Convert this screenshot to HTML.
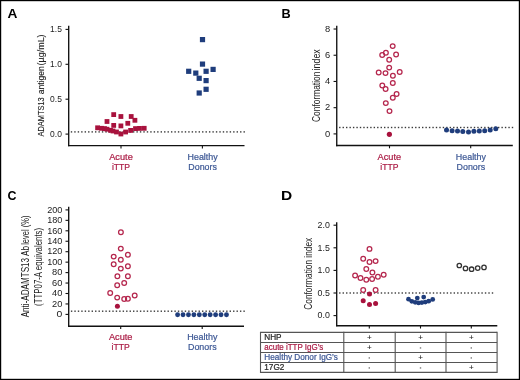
<!DOCTYPE html><html><head><meta charset="utf-8"><style>html,body{margin:0;padding:0;background:#fff;}body{width:520px;height:380px;overflow:hidden;}svg{display:block;font-family:"Liberation Sans",sans-serif;will-change:transform;}</style></head><body>
<svg width="520" height="380" viewBox="0 0 520 380">
<rect x="0" y="0" width="520" height="380" fill="#fff"/>
<text x="7.4" y="17.9" font-size="13.2" text-anchor="start" fill="#000" font-weight="bold" textLength="9.9" lengthAdjust="spacingAndGlyphs">A</text>
<line x1="68.7" y1="25.8" x2="68.7" y2="146.25" stroke="#111" stroke-width="1.35"/>
<line x1="68.05" y1="145.6" x2="244.5" y2="145.6" stroke="#111" stroke-width="1.35"/>
<line x1="65.5" y1="29.4" x2="68.7" y2="29.4" stroke="#111" stroke-width="1.1"/>
<text x="61.9" y="32.15" font-size="9.4" text-anchor="end" fill="#222" font-weight="normal" textLength="11.8" lengthAdjust="spacingAndGlyphs">1.5</text>
<line x1="65.5" y1="64.3" x2="68.7" y2="64.3" stroke="#111" stroke-width="1.1"/>
<text x="61.9" y="67.05" font-size="9.4" text-anchor="end" fill="#222" font-weight="normal" textLength="11.8" lengthAdjust="spacingAndGlyphs">1.0</text>
<line x1="65.5" y1="99.2" x2="68.7" y2="99.2" stroke="#111" stroke-width="1.1"/>
<text x="61.9" y="101.95" font-size="9.4" text-anchor="end" fill="#222" font-weight="normal" textLength="11.8" lengthAdjust="spacingAndGlyphs">0.5</text>
<line x1="65.5" y1="134.1" x2="68.7" y2="134.1" stroke="#111" stroke-width="1.1"/>
<text x="61.9" y="136.85" font-size="9.4" text-anchor="end" fill="#222" font-weight="normal" textLength="11.8" lengthAdjust="spacingAndGlyphs">0.0</text>
<line x1="121" y1="145.6" x2="121" y2="148.4" stroke="#111" stroke-width="1.1"/>
<line x1="202.4" y1="145.6" x2="202.4" y2="148.4" stroke="#111" stroke-width="1.1"/>
<text transform="translate(44.0,136.5) rotate(-90)" x="0" y="0" font-size="9.6" fill="#222" textLength="39.2" lengthAdjust="spacingAndGlyphs" stroke="#222" stroke-width="0.12">ADAMTS13</text>
<text transform="translate(44.0,94.3) rotate(-90)" x="0" y="0" font-size="9.6" fill="#222" textLength="28.0" lengthAdjust="spacingAndGlyphs" stroke="#222" stroke-width="0.12">antigen</text>
<text transform="translate(44.0,65.4) rotate(-90)" x="0" y="0" font-size="9.6" fill="#222" textLength="31.0" lengthAdjust="spacingAndGlyphs" stroke="#222" stroke-width="0.12">(µg/mL)</text>
<rect x="70.80" y="131.20" width="1.4" height="1.4" fill="#3a3a3a"/>
<rect x="74.25" y="131.20" width="1.4" height="1.4" fill="#3a3a3a"/>
<rect x="77.71" y="131.20" width="1.4" height="1.4" fill="#3a3a3a"/>
<rect x="81.16" y="131.20" width="1.4" height="1.4" fill="#3a3a3a"/>
<rect x="84.62" y="131.20" width="1.4" height="1.4" fill="#3a3a3a"/>
<rect x="88.07" y="131.20" width="1.4" height="1.4" fill="#3a3a3a"/>
<rect x="91.52" y="131.20" width="1.4" height="1.4" fill="#3a3a3a"/>
<rect x="94.98" y="131.20" width="1.4" height="1.4" fill="#3a3a3a"/>
<rect x="98.43" y="131.20" width="1.4" height="1.4" fill="#3a3a3a"/>
<rect x="101.89" y="131.20" width="1.4" height="1.4" fill="#3a3a3a"/>
<rect x="105.34" y="131.20" width="1.4" height="1.4" fill="#3a3a3a"/>
<rect x="108.79" y="131.20" width="1.4" height="1.4" fill="#3a3a3a"/>
<rect x="112.25" y="131.20" width="1.4" height="1.4" fill="#3a3a3a"/>
<rect x="115.70" y="131.20" width="1.4" height="1.4" fill="#3a3a3a"/>
<rect x="119.16" y="131.20" width="1.4" height="1.4" fill="#3a3a3a"/>
<rect x="122.61" y="131.20" width="1.4" height="1.4" fill="#3a3a3a"/>
<rect x="126.06" y="131.20" width="1.4" height="1.4" fill="#3a3a3a"/>
<rect x="129.52" y="131.20" width="1.4" height="1.4" fill="#3a3a3a"/>
<rect x="132.97" y="131.20" width="1.4" height="1.4" fill="#3a3a3a"/>
<rect x="136.43" y="131.20" width="1.4" height="1.4" fill="#3a3a3a"/>
<rect x="139.88" y="131.20" width="1.4" height="1.4" fill="#3a3a3a"/>
<rect x="143.33" y="131.20" width="1.4" height="1.4" fill="#3a3a3a"/>
<rect x="146.79" y="131.20" width="1.4" height="1.4" fill="#3a3a3a"/>
<rect x="150.24" y="131.20" width="1.4" height="1.4" fill="#3a3a3a"/>
<rect x="153.70" y="131.20" width="1.4" height="1.4" fill="#3a3a3a"/>
<rect x="157.15" y="131.20" width="1.4" height="1.4" fill="#3a3a3a"/>
<rect x="160.60" y="131.20" width="1.4" height="1.4" fill="#3a3a3a"/>
<rect x="164.06" y="131.20" width="1.4" height="1.4" fill="#3a3a3a"/>
<rect x="167.51" y="131.20" width="1.4" height="1.4" fill="#3a3a3a"/>
<rect x="170.97" y="131.20" width="1.4" height="1.4" fill="#3a3a3a"/>
<rect x="174.42" y="131.20" width="1.4" height="1.4" fill="#3a3a3a"/>
<rect x="177.87" y="131.20" width="1.4" height="1.4" fill="#3a3a3a"/>
<rect x="181.33" y="131.20" width="1.4" height="1.4" fill="#3a3a3a"/>
<rect x="184.78" y="131.20" width="1.4" height="1.4" fill="#3a3a3a"/>
<rect x="188.24" y="131.20" width="1.4" height="1.4" fill="#3a3a3a"/>
<rect x="191.69" y="131.20" width="1.4" height="1.4" fill="#3a3a3a"/>
<rect x="195.14" y="131.20" width="1.4" height="1.4" fill="#3a3a3a"/>
<rect x="198.60" y="131.20" width="1.4" height="1.4" fill="#3a3a3a"/>
<rect x="202.05" y="131.20" width="1.4" height="1.4" fill="#3a3a3a"/>
<rect x="205.51" y="131.20" width="1.4" height="1.4" fill="#3a3a3a"/>
<rect x="208.96" y="131.20" width="1.4" height="1.4" fill="#3a3a3a"/>
<rect x="212.41" y="131.20" width="1.4" height="1.4" fill="#3a3a3a"/>
<rect x="215.87" y="131.20" width="1.4" height="1.4" fill="#3a3a3a"/>
<rect x="219.32" y="131.20" width="1.4" height="1.4" fill="#3a3a3a"/>
<rect x="222.78" y="131.20" width="1.4" height="1.4" fill="#3a3a3a"/>
<rect x="226.23" y="131.20" width="1.4" height="1.4" fill="#3a3a3a"/>
<rect x="229.68" y="131.20" width="1.4" height="1.4" fill="#3a3a3a"/>
<rect x="233.14" y="131.20" width="1.4" height="1.4" fill="#3a3a3a"/>
<rect x="236.59" y="131.20" width="1.4" height="1.4" fill="#3a3a3a"/>
<rect x="240.05" y="131.20" width="1.4" height="1.4" fill="#3a3a3a"/>
<rect x="243.50" y="131.20" width="1.4" height="1.4" fill="#3a3a3a"/>
<rect x="199.90" y="37.00" width="5.2" height="5.2" fill="#1f3d7c"/>
<rect x="199.90" y="61.50" width="5.2" height="5.2" fill="#1f3d7c"/>
<rect x="186.10" y="68.70" width="5.2" height="5.2" fill="#1f3d7c"/>
<rect x="193.20" y="70.50" width="5.2" height="5.2" fill="#1f3d7c"/>
<rect x="203.50" y="68.70" width="5.2" height="5.2" fill="#1f3d7c"/>
<rect x="210.50" y="66.80" width="5.2" height="5.2" fill="#1f3d7c"/>
<rect x="196.60" y="75.70" width="5.2" height="5.2" fill="#1f3d7c"/>
<rect x="203.50" y="78.00" width="5.2" height="5.2" fill="#1f3d7c"/>
<rect x="203.50" y="86.70" width="5.2" height="5.2" fill="#1f3d7c"/>
<rect x="196.60" y="90.40" width="5.2" height="5.2" fill="#1f3d7c"/>
<rect x="111.30" y="112.20" width="4.8" height="4.8" fill="#a8123d"/>
<rect x="118.50" y="114.10" width="4.8" height="4.8" fill="#a8123d"/>
<rect x="128.80" y="114.10" width="4.8" height="4.8" fill="#a8123d"/>
<rect x="132.50" y="117.90" width="4.8" height="4.8" fill="#a8123d"/>
<rect x="104.60" y="119.10" width="4.8" height="4.8" fill="#a8123d"/>
<rect x="111.30" y="123.00" width="4.8" height="4.8" fill="#a8123d"/>
<rect x="118.50" y="123.50" width="4.8" height="4.8" fill="#a8123d"/>
<rect x="125.40" y="120.90" width="4.8" height="4.8" fill="#a8123d"/>
<rect x="95.20" y="125.40" width="4.8" height="4.8" fill="#a8123d"/>
<rect x="99.10" y="125.90" width="4.8" height="4.8" fill="#a8123d"/>
<rect x="102.10" y="126.20" width="4.8" height="4.8" fill="#a8123d"/>
<rect x="104.60" y="126.80" width="4.8" height="4.8" fill="#a8123d"/>
<rect x="108.10" y="127.90" width="4.8" height="4.8" fill="#a8123d"/>
<rect x="110.60" y="128.60" width="4.8" height="4.8" fill="#a8123d"/>
<rect x="114.10" y="129.60" width="4.8" height="4.8" fill="#a8123d"/>
<rect x="118.50" y="131.60" width="4.8" height="4.8" fill="#a8123d"/>
<rect x="123.20" y="129.60" width="4.8" height="4.8" fill="#a8123d"/>
<rect x="128.20" y="128.00" width="4.8" height="4.8" fill="#a8123d"/>
<rect x="133.10" y="126.20" width="4.8" height="4.8" fill="#a8123d"/>
<rect x="137.10" y="126.00" width="4.8" height="4.8" fill="#a8123d"/>
<rect x="141.80" y="125.90" width="4.8" height="4.8" fill="#a8123d"/>
<text x="121" y="159.8" font-size="9.4" text-anchor="middle" fill="#ab1c45" font-weight="normal" textLength="23.6" lengthAdjust="spacingAndGlyphs" stroke="#ab1c45" stroke-width="0.22">Acute</text>
<text x="121" y="169.8" font-size="9.4" text-anchor="middle" fill="#ab1c45" font-weight="normal" textLength="18.2" lengthAdjust="spacingAndGlyphs" stroke="#ab1c45" stroke-width="0.22">iTTP</text>
<text x="202.6" y="159.8" font-size="9.4" text-anchor="middle" fill="#3d5895" font-weight="normal" textLength="30.2" lengthAdjust="spacingAndGlyphs" stroke="#3d5895" stroke-width="0.22">Healthy</text>
<text x="202.6" y="169.8" font-size="9.4" text-anchor="middle" fill="#3d5895" font-weight="normal" textLength="28.6" lengthAdjust="spacingAndGlyphs" stroke="#3d5895" stroke-width="0.22">Donors</text>
<text x="281.4" y="18.1" font-size="13.2" text-anchor="start" fill="#000" font-weight="bold" textLength="9.2" lengthAdjust="spacingAndGlyphs">B</text>
<line x1="336.75" y1="25.8" x2="336.75" y2="146.15" stroke="#111" stroke-width="1.35"/>
<line x1="336.1" y1="145.5" x2="512.8" y2="145.5" stroke="#111" stroke-width="1.35"/>
<line x1="333.55" y1="29.02" x2="336.75" y2="29.02" stroke="#111" stroke-width="1.1"/>
<text x="330.3" y="31.77" font-size="9.4" text-anchor="end" fill="#222" font-weight="normal" textLength="5.2" lengthAdjust="spacingAndGlyphs">8</text>
<line x1="333.55" y1="55.24" x2="336.75" y2="55.24" stroke="#111" stroke-width="1.1"/>
<text x="330.3" y="57.99" font-size="9.4" text-anchor="end" fill="#222" font-weight="normal" textLength="5.2" lengthAdjust="spacingAndGlyphs">6</text>
<line x1="333.55" y1="81.46" x2="336.75" y2="81.46" stroke="#111" stroke-width="1.1"/>
<text x="330.3" y="84.21" font-size="9.4" text-anchor="end" fill="#222" font-weight="normal" textLength="5.2" lengthAdjust="spacingAndGlyphs">4</text>
<line x1="333.55" y1="107.68" x2="336.75" y2="107.68" stroke="#111" stroke-width="1.1"/>
<text x="330.3" y="110.43" font-size="9.4" text-anchor="end" fill="#222" font-weight="normal" textLength="5.2" lengthAdjust="spacingAndGlyphs">2</text>
<line x1="333.55" y1="133.9" x2="336.75" y2="133.9" stroke="#111" stroke-width="1.1"/>
<text x="330.3" y="136.65" font-size="9.4" text-anchor="end" fill="#222" font-weight="normal" textLength="5.2" lengthAdjust="spacingAndGlyphs">0</text>
<line x1="389.5" y1="145.5" x2="389.5" y2="148.3" stroke="#111" stroke-width="1.1"/>
<line x1="470.7" y1="145.5" x2="470.7" y2="148.3" stroke="#111" stroke-width="1.1"/>
<text transform="translate(319.7,122.0) rotate(-90)" x="0" y="0" font-size="10.6" fill="#222" textLength="50.4" lengthAdjust="spacingAndGlyphs">Conformation</text>
<text transform="translate(319.7,70.4) rotate(-90)" x="0" y="0" font-size="10.6" fill="#222" textLength="21.2" lengthAdjust="spacingAndGlyphs">index</text>
<rect x="339.10" y="126.80" width="1.4" height="1.4" fill="#3a3a3a"/>
<rect x="342.55" y="126.80" width="1.4" height="1.4" fill="#3a3a3a"/>
<rect x="346.01" y="126.80" width="1.4" height="1.4" fill="#3a3a3a"/>
<rect x="349.46" y="126.80" width="1.4" height="1.4" fill="#3a3a3a"/>
<rect x="352.92" y="126.80" width="1.4" height="1.4" fill="#3a3a3a"/>
<rect x="356.37" y="126.80" width="1.4" height="1.4" fill="#3a3a3a"/>
<rect x="359.82" y="126.80" width="1.4" height="1.4" fill="#3a3a3a"/>
<rect x="363.28" y="126.80" width="1.4" height="1.4" fill="#3a3a3a"/>
<rect x="366.73" y="126.80" width="1.4" height="1.4" fill="#3a3a3a"/>
<rect x="370.19" y="126.80" width="1.4" height="1.4" fill="#3a3a3a"/>
<rect x="373.64" y="126.80" width="1.4" height="1.4" fill="#3a3a3a"/>
<rect x="377.09" y="126.80" width="1.4" height="1.4" fill="#3a3a3a"/>
<rect x="380.55" y="126.80" width="1.4" height="1.4" fill="#3a3a3a"/>
<rect x="384.00" y="126.80" width="1.4" height="1.4" fill="#3a3a3a"/>
<rect x="387.46" y="126.80" width="1.4" height="1.4" fill="#3a3a3a"/>
<rect x="390.91" y="126.80" width="1.4" height="1.4" fill="#3a3a3a"/>
<rect x="394.36" y="126.80" width="1.4" height="1.4" fill="#3a3a3a"/>
<rect x="397.82" y="126.80" width="1.4" height="1.4" fill="#3a3a3a"/>
<rect x="401.27" y="126.80" width="1.4" height="1.4" fill="#3a3a3a"/>
<rect x="404.73" y="126.80" width="1.4" height="1.4" fill="#3a3a3a"/>
<rect x="408.18" y="126.80" width="1.4" height="1.4" fill="#3a3a3a"/>
<rect x="411.63" y="126.80" width="1.4" height="1.4" fill="#3a3a3a"/>
<rect x="415.09" y="126.80" width="1.4" height="1.4" fill="#3a3a3a"/>
<rect x="418.54" y="126.80" width="1.4" height="1.4" fill="#3a3a3a"/>
<rect x="422.00" y="126.80" width="1.4" height="1.4" fill="#3a3a3a"/>
<rect x="425.45" y="126.80" width="1.4" height="1.4" fill="#3a3a3a"/>
<rect x="428.90" y="126.80" width="1.4" height="1.4" fill="#3a3a3a"/>
<rect x="432.36" y="126.80" width="1.4" height="1.4" fill="#3a3a3a"/>
<rect x="435.81" y="126.80" width="1.4" height="1.4" fill="#3a3a3a"/>
<rect x="439.27" y="126.80" width="1.4" height="1.4" fill="#3a3a3a"/>
<rect x="442.72" y="126.80" width="1.4" height="1.4" fill="#3a3a3a"/>
<rect x="446.17" y="126.80" width="1.4" height="1.4" fill="#3a3a3a"/>
<rect x="449.63" y="126.80" width="1.4" height="1.4" fill="#3a3a3a"/>
<rect x="453.08" y="126.80" width="1.4" height="1.4" fill="#3a3a3a"/>
<rect x="456.54" y="126.80" width="1.4" height="1.4" fill="#3a3a3a"/>
<rect x="459.99" y="126.80" width="1.4" height="1.4" fill="#3a3a3a"/>
<rect x="463.44" y="126.80" width="1.4" height="1.4" fill="#3a3a3a"/>
<rect x="466.90" y="126.80" width="1.4" height="1.4" fill="#3a3a3a"/>
<rect x="470.35" y="126.80" width="1.4" height="1.4" fill="#3a3a3a"/>
<rect x="473.81" y="126.80" width="1.4" height="1.4" fill="#3a3a3a"/>
<rect x="477.26" y="126.80" width="1.4" height="1.4" fill="#3a3a3a"/>
<rect x="480.71" y="126.80" width="1.4" height="1.4" fill="#3a3a3a"/>
<rect x="484.17" y="126.80" width="1.4" height="1.4" fill="#3a3a3a"/>
<rect x="487.62" y="126.80" width="1.4" height="1.4" fill="#3a3a3a"/>
<rect x="491.08" y="126.80" width="1.4" height="1.4" fill="#3a3a3a"/>
<rect x="494.53" y="126.80" width="1.4" height="1.4" fill="#3a3a3a"/>
<rect x="497.98" y="126.80" width="1.4" height="1.4" fill="#3a3a3a"/>
<rect x="501.44" y="126.80" width="1.4" height="1.4" fill="#3a3a3a"/>
<rect x="504.89" y="126.80" width="1.4" height="1.4" fill="#3a3a3a"/>
<rect x="508.35" y="126.80" width="1.4" height="1.4" fill="#3a3a3a"/>
<rect x="511.80" y="126.80" width="1.4" height="1.4" fill="#3a3a3a"/>
<circle cx="392.7" cy="46.1" r="2.35" fill="none" stroke="#b5264d" stroke-width="1.25"/>
<circle cx="385.9" cy="52.8" r="2.35" fill="none" stroke="#b5264d" stroke-width="1.25"/>
<circle cx="382.2" cy="55.0" r="2.35" fill="none" stroke="#b5264d" stroke-width="1.25"/>
<circle cx="396.1" cy="54.5" r="2.35" fill="none" stroke="#b5264d" stroke-width="1.25"/>
<circle cx="389.2" cy="59.8" r="2.35" fill="none" stroke="#b5264d" stroke-width="1.25"/>
<circle cx="389.2" cy="67.6" r="2.35" fill="none" stroke="#b5264d" stroke-width="1.25"/>
<circle cx="378.7" cy="72.4" r="2.35" fill="none" stroke="#b5264d" stroke-width="1.25"/>
<circle cx="385.5" cy="73.1" r="2.35" fill="none" stroke="#b5264d" stroke-width="1.25"/>
<circle cx="392.9" cy="75.8" r="2.35" fill="none" stroke="#b5264d" stroke-width="1.25"/>
<circle cx="399.7" cy="72.0" r="2.35" fill="none" stroke="#b5264d" stroke-width="1.25"/>
<circle cx="392.8" cy="83.0" r="2.35" fill="none" stroke="#b5264d" stroke-width="1.25"/>
<circle cx="382.3" cy="85.5" r="2.35" fill="none" stroke="#b5264d" stroke-width="1.25"/>
<circle cx="385.6" cy="88.9" r="2.35" fill="none" stroke="#b5264d" stroke-width="1.25"/>
<circle cx="396.6" cy="93.9" r="2.35" fill="none" stroke="#b5264d" stroke-width="1.25"/>
<circle cx="392.8" cy="97.7" r="2.35" fill="none" stroke="#b5264d" stroke-width="1.25"/>
<circle cx="385.8" cy="103.1" r="2.35" fill="none" stroke="#b5264d" stroke-width="1.25"/>
<circle cx="389.5" cy="111.1" r="2.35" fill="none" stroke="#b5264d" stroke-width="1.25"/>
<circle cx="389.4" cy="134.3" r="2.6" fill="#a8123d"/>
<circle cx="446.5" cy="130.1" r="2.5" fill="#1f3d7c"/>
<circle cx="452.1" cy="130.8" r="2.5" fill="#1f3d7c"/>
<circle cx="457.5" cy="131.0" r="2.5" fill="#1f3d7c"/>
<circle cx="462.8" cy="131.5" r="2.5" fill="#1f3d7c"/>
<circle cx="468.5" cy="131.9" r="2.5" fill="#1f3d7c"/>
<circle cx="473.9" cy="131.2" r="2.5" fill="#1f3d7c"/>
<circle cx="479.3" cy="131.0" r="2.5" fill="#1f3d7c"/>
<circle cx="484.7" cy="130.8" r="2.5" fill="#1f3d7c"/>
<circle cx="490.2" cy="129.9" r="2.5" fill="#1f3d7c"/>
<circle cx="495.8" cy="128.8" r="2.5" fill="#1f3d7c"/>
<text x="389.4" y="160" font-size="9.4" text-anchor="middle" fill="#ab1c45" font-weight="normal" textLength="23.6" lengthAdjust="spacingAndGlyphs" stroke="#ab1c45" stroke-width="0.22">Acute</text>
<text x="389.4" y="170" font-size="9.4" text-anchor="middle" fill="#ab1c45" font-weight="normal" textLength="18.2" lengthAdjust="spacingAndGlyphs" stroke="#ab1c45" stroke-width="0.22">iTTP</text>
<text x="470.9" y="160" font-size="9.4" text-anchor="middle" fill="#3d5895" font-weight="normal" textLength="30.2" lengthAdjust="spacingAndGlyphs" stroke="#3d5895" stroke-width="0.22">Healthy</text>
<text x="470.9" y="170" font-size="9.4" text-anchor="middle" fill="#3d5895" font-weight="normal" textLength="28.6" lengthAdjust="spacingAndGlyphs" stroke="#3d5895" stroke-width="0.22">Donors</text>
<text x="7.4" y="200" font-size="13.2" text-anchor="start" fill="#000" font-weight="bold" textLength="9.0" lengthAdjust="spacingAndGlyphs">C</text>
<line x1="68.7" y1="206.7" x2="68.7" y2="326.85" stroke="#111" stroke-width="1.35"/>
<line x1="68.05" y1="326.2" x2="244" y2="326.2" stroke="#111" stroke-width="1.35"/>
<line x1="65.5" y1="209.9" x2="68.7" y2="209.9" stroke="#111" stroke-width="1.1"/>
<text x="62.4" y="212.65" font-size="9.4" text-anchor="end" fill="#222" font-weight="normal" textLength="15.2" lengthAdjust="spacingAndGlyphs">200</text>
<line x1="65.5" y1="220.35" x2="68.7" y2="220.35" stroke="#111" stroke-width="1.1"/>
<text x="62.4" y="223.1" font-size="9.4" text-anchor="end" fill="#222" font-weight="normal" textLength="15.2" lengthAdjust="spacingAndGlyphs">180</text>
<line x1="65.5" y1="230.8" x2="68.7" y2="230.8" stroke="#111" stroke-width="1.1"/>
<text x="62.4" y="233.55" font-size="9.4" text-anchor="end" fill="#222" font-weight="normal" textLength="15.2" lengthAdjust="spacingAndGlyphs">160</text>
<line x1="65.5" y1="241.25" x2="68.7" y2="241.25" stroke="#111" stroke-width="1.1"/>
<text x="62.4" y="244" font-size="9.4" text-anchor="end" fill="#222" font-weight="normal" textLength="15.2" lengthAdjust="spacingAndGlyphs">140</text>
<line x1="65.5" y1="251.7" x2="68.7" y2="251.7" stroke="#111" stroke-width="1.1"/>
<text x="62.4" y="254.45" font-size="9.4" text-anchor="end" fill="#222" font-weight="normal" textLength="15.2" lengthAdjust="spacingAndGlyphs">120</text>
<line x1="65.5" y1="262.15" x2="68.7" y2="262.15" stroke="#111" stroke-width="1.1"/>
<text x="62.4" y="264.9" font-size="9.4" text-anchor="end" fill="#222" font-weight="normal" textLength="15.2" lengthAdjust="spacingAndGlyphs">100</text>
<line x1="65.5" y1="272.6" x2="68.7" y2="272.6" stroke="#111" stroke-width="1.1"/>
<text x="62.4" y="275.35" font-size="9.4" text-anchor="end" fill="#222" font-weight="normal" textLength="10.3" lengthAdjust="spacingAndGlyphs">80</text>
<line x1="65.5" y1="283.05" x2="68.7" y2="283.05" stroke="#111" stroke-width="1.1"/>
<text x="62.4" y="285.8" font-size="9.4" text-anchor="end" fill="#222" font-weight="normal" textLength="10.3" lengthAdjust="spacingAndGlyphs">60</text>
<line x1="65.5" y1="293.5" x2="68.7" y2="293.5" stroke="#111" stroke-width="1.1"/>
<text x="62.4" y="296.25" font-size="9.4" text-anchor="end" fill="#222" font-weight="normal" textLength="10.3" lengthAdjust="spacingAndGlyphs">40</text>
<line x1="65.5" y1="303.95" x2="68.7" y2="303.95" stroke="#111" stroke-width="1.1"/>
<text x="62.4" y="306.7" font-size="9.4" text-anchor="end" fill="#222" font-weight="normal" textLength="10.3" lengthAdjust="spacingAndGlyphs">20</text>
<line x1="65.5" y1="314.4" x2="68.7" y2="314.4" stroke="#111" stroke-width="1.1"/>
<text x="62.4" y="317.15" font-size="9.4" text-anchor="end" fill="#222" font-weight="normal" textLength="5.8" lengthAdjust="spacingAndGlyphs">0</text>
<line x1="120.7" y1="326.2" x2="120.7" y2="329" stroke="#111" stroke-width="1.1"/>
<line x1="202.2" y1="326.2" x2="202.2" y2="329" stroke="#111" stroke-width="1.1"/>
<text transform="translate(29.1,317.3) rotate(-90)" x="0" y="0" font-size="10.6" fill="#222" textLength="59.4" lengthAdjust="spacingAndGlyphs">Anti-ADAMTS13</text>
<text transform="translate(29.1,256.0) rotate(-90)" x="0" y="0" font-size="10.6" fill="#222" textLength="10.0" lengthAdjust="spacingAndGlyphs">Ab</text>
<text transform="translate(29.1,244.8) rotate(-90)" x="0" y="0" font-size="10.6" fill="#222" textLength="29.2" lengthAdjust="spacingAndGlyphs">level (%)</text>
<text transform="translate(41.8,305.9) rotate(-90)" x="0" y="0" font-size="10.6" fill="#222" textLength="78.0" lengthAdjust="spacingAndGlyphs">(TTP07-A equivalents)</text>
<rect x="70.90" y="310.50" width="1.4" height="1.4" fill="#3a3a3a"/>
<rect x="74.35" y="310.50" width="1.4" height="1.4" fill="#3a3a3a"/>
<rect x="77.80" y="310.50" width="1.4" height="1.4" fill="#3a3a3a"/>
<rect x="81.25" y="310.50" width="1.4" height="1.4" fill="#3a3a3a"/>
<rect x="84.70" y="310.50" width="1.4" height="1.4" fill="#3a3a3a"/>
<rect x="88.15" y="310.50" width="1.4" height="1.4" fill="#3a3a3a"/>
<rect x="91.60" y="310.50" width="1.4" height="1.4" fill="#3a3a3a"/>
<rect x="95.05" y="310.50" width="1.4" height="1.4" fill="#3a3a3a"/>
<rect x="98.50" y="310.50" width="1.4" height="1.4" fill="#3a3a3a"/>
<rect x="101.95" y="310.50" width="1.4" height="1.4" fill="#3a3a3a"/>
<rect x="105.40" y="310.50" width="1.4" height="1.4" fill="#3a3a3a"/>
<rect x="108.85" y="310.50" width="1.4" height="1.4" fill="#3a3a3a"/>
<rect x="112.30" y="310.50" width="1.4" height="1.4" fill="#3a3a3a"/>
<rect x="115.75" y="310.50" width="1.4" height="1.4" fill="#3a3a3a"/>
<rect x="119.20" y="310.50" width="1.4" height="1.4" fill="#3a3a3a"/>
<rect x="122.65" y="310.50" width="1.4" height="1.4" fill="#3a3a3a"/>
<rect x="126.10" y="310.50" width="1.4" height="1.4" fill="#3a3a3a"/>
<rect x="129.55" y="310.50" width="1.4" height="1.4" fill="#3a3a3a"/>
<rect x="133.00" y="310.50" width="1.4" height="1.4" fill="#3a3a3a"/>
<rect x="136.45" y="310.50" width="1.4" height="1.4" fill="#3a3a3a"/>
<rect x="139.90" y="310.50" width="1.4" height="1.4" fill="#3a3a3a"/>
<rect x="143.35" y="310.50" width="1.4" height="1.4" fill="#3a3a3a"/>
<rect x="146.80" y="310.50" width="1.4" height="1.4" fill="#3a3a3a"/>
<rect x="150.25" y="310.50" width="1.4" height="1.4" fill="#3a3a3a"/>
<rect x="153.70" y="310.50" width="1.4" height="1.4" fill="#3a3a3a"/>
<rect x="157.15" y="310.50" width="1.4" height="1.4" fill="#3a3a3a"/>
<rect x="160.60" y="310.50" width="1.4" height="1.4" fill="#3a3a3a"/>
<rect x="164.05" y="310.50" width="1.4" height="1.4" fill="#3a3a3a"/>
<rect x="167.50" y="310.50" width="1.4" height="1.4" fill="#3a3a3a"/>
<rect x="170.95" y="310.50" width="1.4" height="1.4" fill="#3a3a3a"/>
<rect x="174.40" y="310.50" width="1.4" height="1.4" fill="#3a3a3a"/>
<rect x="177.85" y="310.50" width="1.4" height="1.4" fill="#3a3a3a"/>
<rect x="181.30" y="310.50" width="1.4" height="1.4" fill="#3a3a3a"/>
<rect x="184.75" y="310.50" width="1.4" height="1.4" fill="#3a3a3a"/>
<rect x="188.20" y="310.50" width="1.4" height="1.4" fill="#3a3a3a"/>
<rect x="191.65" y="310.50" width="1.4" height="1.4" fill="#3a3a3a"/>
<rect x="195.10" y="310.50" width="1.4" height="1.4" fill="#3a3a3a"/>
<rect x="198.55" y="310.50" width="1.4" height="1.4" fill="#3a3a3a"/>
<rect x="202.00" y="310.50" width="1.4" height="1.4" fill="#3a3a3a"/>
<rect x="205.45" y="310.50" width="1.4" height="1.4" fill="#3a3a3a"/>
<rect x="208.90" y="310.50" width="1.4" height="1.4" fill="#3a3a3a"/>
<rect x="212.35" y="310.50" width="1.4" height="1.4" fill="#3a3a3a"/>
<rect x="215.80" y="310.50" width="1.4" height="1.4" fill="#3a3a3a"/>
<rect x="219.25" y="310.50" width="1.4" height="1.4" fill="#3a3a3a"/>
<rect x="222.70" y="310.50" width="1.4" height="1.4" fill="#3a3a3a"/>
<rect x="226.15" y="310.50" width="1.4" height="1.4" fill="#3a3a3a"/>
<rect x="229.60" y="310.50" width="1.4" height="1.4" fill="#3a3a3a"/>
<rect x="233.05" y="310.50" width="1.4" height="1.4" fill="#3a3a3a"/>
<rect x="236.50" y="310.50" width="1.4" height="1.4" fill="#3a3a3a"/>
<rect x="239.95" y="310.50" width="1.4" height="1.4" fill="#3a3a3a"/>
<rect x="243.40" y="310.50" width="1.4" height="1.4" fill="#3a3a3a"/>
<circle cx="120.9" cy="232.2" r="2.35" fill="none" stroke="#b5264d" stroke-width="1.25"/>
<circle cx="120.8" cy="248.6" r="2.35" fill="none" stroke="#b5264d" stroke-width="1.25"/>
<circle cx="113.7" cy="256.6" r="2.35" fill="none" stroke="#b5264d" stroke-width="1.25"/>
<circle cx="127.9" cy="254.7" r="2.35" fill="none" stroke="#b5264d" stroke-width="1.25"/>
<circle cx="120.8" cy="259.8" r="2.35" fill="none" stroke="#b5264d" stroke-width="1.25"/>
<circle cx="113.7" cy="264.2" r="2.35" fill="none" stroke="#b5264d" stroke-width="1.25"/>
<circle cx="127.9" cy="266.3" r="2.35" fill="none" stroke="#b5264d" stroke-width="1.25"/>
<circle cx="120.8" cy="268.6" r="2.35" fill="none" stroke="#b5264d" stroke-width="1.25"/>
<circle cx="117.4" cy="276.3" r="2.35" fill="none" stroke="#b5264d" stroke-width="1.25"/>
<circle cx="127.9" cy="276.3" r="2.35" fill="none" stroke="#b5264d" stroke-width="1.25"/>
<circle cx="117.2" cy="285.3" r="2.35" fill="none" stroke="#b5264d" stroke-width="1.25"/>
<circle cx="124.2" cy="282.9" r="2.35" fill="none" stroke="#b5264d" stroke-width="1.25"/>
<circle cx="110.2" cy="292.9" r="2.35" fill="none" stroke="#b5264d" stroke-width="1.25"/>
<circle cx="117.2" cy="297.6" r="2.35" fill="none" stroke="#b5264d" stroke-width="1.25"/>
<circle cx="124.2" cy="299.0" r="2.35" fill="none" stroke="#b5264d" stroke-width="1.25"/>
<circle cx="127.9" cy="298.7" r="2.35" fill="none" stroke="#b5264d" stroke-width="1.25"/>
<circle cx="134.7" cy="295.5" r="2.35" fill="none" stroke="#b5264d" stroke-width="1.25"/>
<circle cx="117.4" cy="306.2" r="2.5" fill="#a8123d"/>
<circle cx="177.6" cy="314.8" r="2.45" fill="#1f3d7c"/>
<circle cx="183.03" cy="314.8" r="2.45" fill="#1f3d7c"/>
<circle cx="188.45999999999998" cy="314.8" r="2.45" fill="#1f3d7c"/>
<circle cx="193.89" cy="314.8" r="2.45" fill="#1f3d7c"/>
<circle cx="199.32" cy="314.8" r="2.45" fill="#1f3d7c"/>
<circle cx="204.75" cy="314.8" r="2.45" fill="#1f3d7c"/>
<circle cx="210.18" cy="314.8" r="2.45" fill="#1f3d7c"/>
<circle cx="215.60999999999999" cy="314.8" r="2.45" fill="#1f3d7c"/>
<circle cx="221.04" cy="314.8" r="2.45" fill="#1f3d7c"/>
<circle cx="226.47" cy="314.8" r="2.45" fill="#1f3d7c"/>
<text x="120.7" y="340.2" font-size="9.4" text-anchor="middle" fill="#ab1c45" font-weight="normal" textLength="23.6" lengthAdjust="spacingAndGlyphs" stroke="#ab1c45" stroke-width="0.22">Acute</text>
<text x="120.7" y="350.2" font-size="9.4" text-anchor="middle" fill="#ab1c45" font-weight="normal" textLength="18.2" lengthAdjust="spacingAndGlyphs" stroke="#ab1c45" stroke-width="0.22">iTTP</text>
<text x="202.3" y="340.2" font-size="9.4" text-anchor="middle" fill="#3d5895" font-weight="normal" textLength="30.2" lengthAdjust="spacingAndGlyphs" stroke="#3d5895" stroke-width="0.22">Healthy</text>
<text x="202.3" y="350.2" font-size="9.4" text-anchor="middle" fill="#3d5895" font-weight="normal" textLength="28.6" lengthAdjust="spacingAndGlyphs" stroke="#3d5895" stroke-width="0.22">Donors</text>
<text x="281" y="200" font-size="13.2" text-anchor="start" fill="#000" font-weight="bold" textLength="11.2" lengthAdjust="spacingAndGlyphs">D</text>
<line x1="336.7" y1="222.3" x2="336.7" y2="326.35" stroke="#111" stroke-width="1.35"/>
<line x1="336.05" y1="325.7" x2="497.3" y2="325.7" stroke="#111" stroke-width="1.35"/>
<line x1="333.5" y1="225.2" x2="336.7" y2="225.2" stroke="#111" stroke-width="1.1"/>
<text x="329.9" y="227.95" font-size="9.4" text-anchor="end" fill="#222" font-weight="normal" textLength="12.3" lengthAdjust="spacingAndGlyphs">2.0</text>
<line x1="333.5" y1="247.8" x2="336.7" y2="247.8" stroke="#111" stroke-width="1.1"/>
<text x="329.9" y="250.55" font-size="9.4" text-anchor="end" fill="#222" font-weight="normal" textLength="12.3" lengthAdjust="spacingAndGlyphs">1.5</text>
<line x1="333.5" y1="270.4" x2="336.7" y2="270.4" stroke="#111" stroke-width="1.1"/>
<text x="329.9" y="273.15" font-size="9.4" text-anchor="end" fill="#222" font-weight="normal" textLength="12.3" lengthAdjust="spacingAndGlyphs">1.0</text>
<line x1="333.5" y1="293" x2="336.7" y2="293" stroke="#111" stroke-width="1.1"/>
<text x="329.9" y="295.75" font-size="9.4" text-anchor="end" fill="#222" font-weight="normal" textLength="12.3" lengthAdjust="spacingAndGlyphs">0.5</text>
<line x1="333.5" y1="315.6" x2="336.7" y2="315.6" stroke="#111" stroke-width="1.1"/>
<text x="329.9" y="318.35" font-size="9.4" text-anchor="end" fill="#222" font-weight="normal" textLength="12.3" lengthAdjust="spacingAndGlyphs">0.0</text>
<line x1="369.3" y1="325.7" x2="369.3" y2="328.5" stroke="#111" stroke-width="1.1"/>
<line x1="420.5" y1="325.7" x2="420.5" y2="328.5" stroke="#111" stroke-width="1.1"/>
<line x1="471.3" y1="325.7" x2="471.3" y2="328.5" stroke="#111" stroke-width="1.1"/>
<text transform="translate(312.4,309.7) rotate(-90)" x="0" y="0" font-size="10.6" fill="#222" textLength="71.9" lengthAdjust="spacingAndGlyphs">Conformation index</text>
<rect x="339.10" y="292.30" width="1.4" height="1.4" fill="#3a3a3a"/>
<rect x="342.57" y="292.30" width="1.4" height="1.4" fill="#3a3a3a"/>
<rect x="346.04" y="292.30" width="1.4" height="1.4" fill="#3a3a3a"/>
<rect x="349.51" y="292.30" width="1.4" height="1.4" fill="#3a3a3a"/>
<rect x="352.98" y="292.30" width="1.4" height="1.4" fill="#3a3a3a"/>
<rect x="356.45" y="292.30" width="1.4" height="1.4" fill="#3a3a3a"/>
<rect x="359.92" y="292.30" width="1.4" height="1.4" fill="#3a3a3a"/>
<rect x="363.39" y="292.30" width="1.4" height="1.4" fill="#3a3a3a"/>
<rect x="366.86" y="292.30" width="1.4" height="1.4" fill="#3a3a3a"/>
<rect x="370.33" y="292.30" width="1.4" height="1.4" fill="#3a3a3a"/>
<rect x="373.80" y="292.30" width="1.4" height="1.4" fill="#3a3a3a"/>
<rect x="377.28" y="292.30" width="1.4" height="1.4" fill="#3a3a3a"/>
<rect x="380.75" y="292.30" width="1.4" height="1.4" fill="#3a3a3a"/>
<rect x="384.22" y="292.30" width="1.4" height="1.4" fill="#3a3a3a"/>
<rect x="387.69" y="292.30" width="1.4" height="1.4" fill="#3a3a3a"/>
<rect x="391.16" y="292.30" width="1.4" height="1.4" fill="#3a3a3a"/>
<rect x="394.63" y="292.30" width="1.4" height="1.4" fill="#3a3a3a"/>
<rect x="398.10" y="292.30" width="1.4" height="1.4" fill="#3a3a3a"/>
<rect x="401.57" y="292.30" width="1.4" height="1.4" fill="#3a3a3a"/>
<rect x="405.04" y="292.30" width="1.4" height="1.4" fill="#3a3a3a"/>
<rect x="408.51" y="292.30" width="1.4" height="1.4" fill="#3a3a3a"/>
<rect x="411.98" y="292.30" width="1.4" height="1.4" fill="#3a3a3a"/>
<rect x="415.45" y="292.30" width="1.4" height="1.4" fill="#3a3a3a"/>
<rect x="418.92" y="292.30" width="1.4" height="1.4" fill="#3a3a3a"/>
<rect x="422.39" y="292.30" width="1.4" height="1.4" fill="#3a3a3a"/>
<rect x="425.86" y="292.30" width="1.4" height="1.4" fill="#3a3a3a"/>
<rect x="429.33" y="292.30" width="1.4" height="1.4" fill="#3a3a3a"/>
<rect x="432.80" y="292.30" width="1.4" height="1.4" fill="#3a3a3a"/>
<rect x="436.27" y="292.30" width="1.4" height="1.4" fill="#3a3a3a"/>
<rect x="439.74" y="292.30" width="1.4" height="1.4" fill="#3a3a3a"/>
<rect x="443.21" y="292.30" width="1.4" height="1.4" fill="#3a3a3a"/>
<rect x="446.68" y="292.30" width="1.4" height="1.4" fill="#3a3a3a"/>
<rect x="450.15" y="292.30" width="1.4" height="1.4" fill="#3a3a3a"/>
<rect x="453.62" y="292.30" width="1.4" height="1.4" fill="#3a3a3a"/>
<rect x="457.10" y="292.30" width="1.4" height="1.4" fill="#3a3a3a"/>
<rect x="460.57" y="292.30" width="1.4" height="1.4" fill="#3a3a3a"/>
<rect x="464.04" y="292.30" width="1.4" height="1.4" fill="#3a3a3a"/>
<rect x="467.51" y="292.30" width="1.4" height="1.4" fill="#3a3a3a"/>
<rect x="470.98" y="292.30" width="1.4" height="1.4" fill="#3a3a3a"/>
<rect x="474.45" y="292.30" width="1.4" height="1.4" fill="#3a3a3a"/>
<rect x="477.92" y="292.30" width="1.4" height="1.4" fill="#3a3a3a"/>
<rect x="481.39" y="292.30" width="1.4" height="1.4" fill="#3a3a3a"/>
<rect x="484.86" y="292.30" width="1.4" height="1.4" fill="#3a3a3a"/>
<rect x="488.33" y="292.30" width="1.4" height="1.4" fill="#3a3a3a"/>
<rect x="491.80" y="292.30" width="1.4" height="1.4" fill="#3a3a3a"/>
<circle cx="369.5" cy="248.9" r="2.35" fill="none" stroke="#b5264d" stroke-width="1.25"/>
<circle cx="363.2" cy="258.7" r="2.35" fill="none" stroke="#b5264d" stroke-width="1.25"/>
<circle cx="369.5" cy="261.9" r="2.35" fill="none" stroke="#b5264d" stroke-width="1.25"/>
<circle cx="375.6" cy="261.1" r="2.35" fill="none" stroke="#b5264d" stroke-width="1.25"/>
<circle cx="366.3" cy="268.9" r="2.35" fill="none" stroke="#b5264d" stroke-width="1.25"/>
<circle cx="372.4" cy="272.4" r="2.35" fill="none" stroke="#b5264d" stroke-width="1.25"/>
<circle cx="355.1" cy="275.4" r="2.35" fill="none" stroke="#b5264d" stroke-width="1.25"/>
<circle cx="360.5" cy="277.9" r="2.35" fill="none" stroke="#b5264d" stroke-width="1.25"/>
<circle cx="366.3" cy="279.7" r="2.35" fill="none" stroke="#b5264d" stroke-width="1.25"/>
<circle cx="372.1" cy="279.0" r="2.35" fill="none" stroke="#b5264d" stroke-width="1.25"/>
<circle cx="377.9" cy="276.7" r="2.35" fill="none" stroke="#b5264d" stroke-width="1.25"/>
<circle cx="383.7" cy="274.7" r="2.35" fill="none" stroke="#b5264d" stroke-width="1.25"/>
<circle cx="363.2" cy="290.0" r="2.35" fill="none" stroke="#b5264d" stroke-width="1.25"/>
<circle cx="375.6" cy="290.0" r="2.35" fill="none" stroke="#b5264d" stroke-width="1.25"/>
<circle cx="369.5" cy="294.0" r="2.5" fill="#a8123d"/>
<circle cx="363.2" cy="300.8" r="2.5" fill="#a8123d"/>
<circle cx="369.5" cy="304.5" r="2.5" fill="#a8123d"/>
<circle cx="375.6" cy="303.5" r="2.5" fill="#a8123d"/>
<circle cx="408.5" cy="299.2" r="2.4" fill="#1f3d7c"/>
<circle cx="411.8" cy="301.3" r="2.4" fill="#1f3d7c"/>
<circle cx="415.2" cy="302.3" r="2.4" fill="#1f3d7c"/>
<circle cx="417.3" cy="298.1" r="2.4" fill="#1f3d7c"/>
<circle cx="418.6" cy="302.9" r="2.4" fill="#1f3d7c"/>
<circle cx="421.9" cy="302.6" r="2.4" fill="#1f3d7c"/>
<circle cx="423.7" cy="297.1" r="2.4" fill="#1f3d7c"/>
<circle cx="425.3" cy="302.1" r="2.4" fill="#1f3d7c"/>
<circle cx="428.7" cy="301.2" r="2.4" fill="#1f3d7c"/>
<circle cx="432.7" cy="299.4" r="2.4" fill="#1f3d7c"/>
<circle cx="459.3" cy="265.5" r="2.2" fill="none" stroke="#333" stroke-width="1.3"/>
<circle cx="465.5" cy="268.4" r="2.2" fill="none" stroke="#333" stroke-width="1.3"/>
<circle cx="471.6" cy="269.2" r="2.2" fill="none" stroke="#333" stroke-width="1.3"/>
<circle cx="477.7" cy="268.1" r="2.2" fill="none" stroke="#333" stroke-width="1.3"/>
<circle cx="484.0" cy="267.4" r="2.2" fill="none" stroke="#333" stroke-width="1.3"/>
<line x1="260.5" y1="332.4" x2="497.1" y2="332.4" stroke="#555" stroke-width="1.1"/>
<line x1="260.5" y1="342.5" x2="497.1" y2="342.5" stroke="#555" stroke-width="1.1"/>
<line x1="260.5" y1="352.5" x2="497.1" y2="352.5" stroke="#555" stroke-width="1.1"/>
<line x1="260.5" y1="362.5" x2="497.1" y2="362.5" stroke="#555" stroke-width="1.1"/>
<line x1="260.5" y1="372.4" x2="497.1" y2="372.4" stroke="#555" stroke-width="1.1"/>
<line x1="260.5" y1="331.85" x2="260.5" y2="372.95" stroke="#555" stroke-width="1.1"/>
<line x1="343.8" y1="331.85" x2="343.8" y2="372.95" stroke="#555" stroke-width="1.1"/>
<line x1="395.2" y1="331.85" x2="395.2" y2="372.95" stroke="#555" stroke-width="1.1"/>
<line x1="446" y1="331.85" x2="446" y2="372.95" stroke="#555" stroke-width="1.1"/>
<line x1="497.1" y1="331.85" x2="497.1" y2="372.95" stroke="#555" stroke-width="1.1"/>
<text x="264.3" y="340" font-size="8.2" text-anchor="start" fill="#262626" font-weight="normal" stroke="#262626" stroke-width="0.22">NHP</text>
<text x="264.3" y="350.1" font-size="8.2" text-anchor="start" fill="#ab1c45" font-weight="normal" textLength="59.0" lengthAdjust="spacingAndGlyphs" stroke="#ab1c45" stroke-width="0.22">acute iTTP IgG’s</text>
<text x="264.3" y="360.1" font-size="8.2" text-anchor="start" fill="#3d5895" font-weight="normal" stroke="#3d5895" stroke-width="0.22">Healthy Donor IgG’s</text>
<text x="264.3" y="370.1" font-size="8.2" text-anchor="start" fill="#262626" font-weight="normal" stroke="#262626" stroke-width="0.22">17G2</text>
<text x="369.3" y="339.8" font-size="8" text-anchor="middle" fill="#222" font-weight="normal" stroke="#222" stroke-width="0.1">+</text>
<text x="420.5" y="339.8" font-size="8" text-anchor="middle" fill="#222" font-weight="normal" stroke="#222" stroke-width="0.1">+</text>
<text x="471.3" y="339.8" font-size="8" text-anchor="middle" fill="#222" font-weight="normal" stroke="#222" stroke-width="0.1">+</text>
<text x="369.3" y="349.9" font-size="8" text-anchor="middle" fill="#222" font-weight="normal" stroke="#222" stroke-width="0.1">+</text>
<rect x="419.80" y="347.40" width="1.4" height="1.1" fill="#555"/>
<rect x="470.60" y="347.40" width="1.4" height="1.1" fill="#555"/>
<rect x="368.60" y="357.40" width="1.4" height="1.1" fill="#555"/>
<text x="420.5" y="359.9" font-size="8" text-anchor="middle" fill="#222" font-weight="normal" stroke="#222" stroke-width="0.1">+</text>
<rect x="470.60" y="357.40" width="1.4" height="1.1" fill="#555"/>
<rect x="368.60" y="367.40" width="1.4" height="1.1" fill="#555"/>
<rect x="419.80" y="367.40" width="1.4" height="1.1" fill="#555"/>
<text x="471.3" y="369.9" font-size="8" text-anchor="middle" fill="#222" font-weight="normal" stroke="#222" stroke-width="0.1">+</text>
<rect x="0.5" y="0.5" width="519" height="379" fill="none" stroke="#000" stroke-width="1.4"/>
</svg></body></html>
